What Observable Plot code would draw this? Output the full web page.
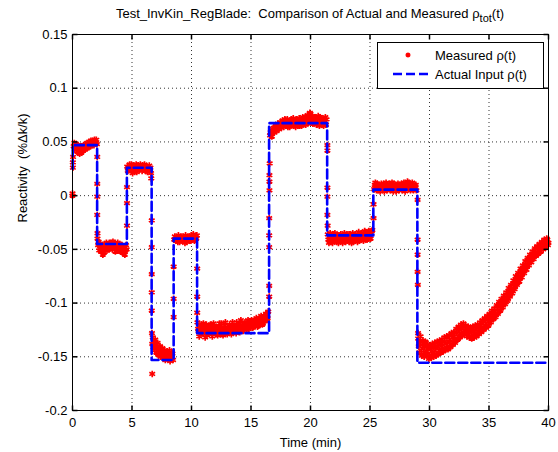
<!DOCTYPE html>
<html><head><meta charset="utf-8">
<script src="https://cdn.jsdelivr.net/npm/d3@7"></script>
<script src="https://cdn.jsdelivr.net/npm/@observablehq/plot@0.6"></script>
<style>
body{margin:0;background:#fff;font-family:"Liberation Sans",Arial,sans-serif;}
#wrap{position:relative;width:558px;height:452px;background:#fff;}
#title{height:28px;line-height:28px;text-align:center;padding-left:62px;font-size:13px;white-space:nowrap;color:#000;}
#title sub{font-size:11px;vertical-align:-4px;line-height:0;}
#legend{position:absolute;left:377px;top:42px;}
</style></head>
<body>
<div id="wrap">
<div id="title">Test_InvKin_RegBlade:&nbsp; Comparison of Actual and Measured ρ<sub>tot</sub>(t)</div>
<div id="chart"></div>
<svg id="legend" width="167" height="47" xmlns="http://www.w3.org/2000/svg" font-family="Liberation Sans, Arial, sans-serif" font-size="13">
<rect x="0.5" y="0.5" width="166" height="46" fill="#fff" stroke="#000"/>
<path d="M31,10.5v5M28.5,13h5M29.2,11.2l3.6,3.6M32.8,11.2l-3.6,3.6" stroke="#ff0000" stroke-width="1.4"/>
<line x1="16" y1="32" x2="55" y2="32" stroke="#0000ff" stroke-width="2.6" stroke-dasharray="9,4"/>
<text x="58" y="17.5">Measured ρ(t)</text>
<text x="58" y="37">Actual Input ρ(t)</text>
</svg>
</div>
<script>
const xTicks = [0, 5, 10, 15, 20, 25, 30, 35, 40];
const yTicks = [-0.2, -0.15, -0.1, -0.05, 0, 0.05, 0.1, 0.15];
const yTickLabels = ["-0.2", "-0.15", "-0.1", "-0.05", "0", "0.05", "0.1", "0.15"];

// Actual input reactivity: breakpoints (min) and levels (%Δk/k)
const actualTime = [0, 0.02, 2.07, 4.57, 6.65, 8.5, 10.47, 16.52, 21.4, 25.28, 28.98, 40];
const actualValue = [0.025, 0.047, -0.045, 0.026, -0.153, -0.04, -0.128, 0.0675, -0.037, 0.0056, -0.1556, -0.1556];

// Measured reactivity [time, value]
const measStart = [[0,0.000],[0,0.002],[0.03,0.026],[0.03,0.031],[0.05,0.036]];
const measSeg1 = [[0.1,0.046],[0.15,0.049],[0.2,0.043],[0.25,0.047],[0.3,0.048],[0.35,0.044],[0.4,0.041],[0.45,0.047],[0.5,0.044],[0.55,0.040],[0.6,0.039],[0.65,0.046],[0.7,0.043],[0.75,0.040],[0.8,0.046],[0.85,0.044],[0.9,0.042],[0.95,0.047],[1.0,0.045],[1.05,0.043],[1.1,0.048],[1.15,0.046],[1.2,0.044],[1.25,0.049],[1.3,0.047],[1.35,0.045],[1.4,0.050],[1.45,0.048],[1.5,0.046],[1.55,0.051],[1.6,0.049],[1.65,0.047],[1.7,0.051],[1.75,0.049],[1.8,0.047],[1.85,0.052],[1.9,0.050],[1.95,0.049],[2.0,0.052],[2.05,0.048]];
const measTrans1 = [[2.08,0.036],[2.08,0.011],[2.08,-0.001],[2.08,-0.018],[2.1,-0.035]];
const measSeg2 = [[2.1,-0.040],[2.15,-0.046],[2.2,-0.043],[2.25,-0.051],[2.3,-0.049],[2.35,-0.045],[2.4,-0.052],[2.45,-0.049],[2.5,-0.047],[2.55,-0.055],[2.6,-0.050],[2.65,-0.053],[2.7,-0.045],[2.75,-0.050],[2.8,-0.048],[2.85,-0.044],[2.9,-0.051],[2.95,-0.048],[3.0,-0.046],[3.05,-0.050],[3.1,-0.044],[3.15,-0.047],[3.2,-0.049],[3.25,-0.044],[3.3,-0.047],[3.35,-0.050],[3.4,-0.043],[3.45,-0.046],[3.5,-0.048],[3.55,-0.044],[3.6,-0.052],[3.65,-0.049],[3.7,-0.046],[3.75,-0.051],[3.8,-0.044],[3.85,-0.047],[3.9,-0.050],[3.95,-0.045],[4.0,-0.047],[4.05,-0.052],[4.1,-0.049],[4.15,-0.046],[4.2,-0.053],[4.25,-0.050],[4.3,-0.048],[4.35,-0.052],[4.4,-0.055],[4.45,-0.051],[4.5,-0.046],[4.55,-0.050]];
const measTrans2 = [[4.58,0.008],[4.58,-0.007],[4.58,-0.028]];
const measSeg3 = [[4.6,0.027],[4.65,0.023],[4.7,0.026],[4.75,0.024],[4.8,0.029],[4.85,0.024],[4.9,0.027],[4.95,0.029],[5.0,0.025],[5.05,0.021],[5.1,0.024],[5.15,0.028],[5.2,0.027],[5.25,0.023],[5.3,0.026],[5.35,0.029],[5.4,0.022],[5.45,0.025],[5.5,0.028],[5.55,0.026],[5.6,0.024],[5.65,0.027],[5.7,0.029],[5.75,0.025],[5.8,0.026],[5.85,0.023],[5.9,0.028],[5.95,0.026],[6.0,0.025],[6.05,0.029],[6.1,0.027],[6.15,0.023],[6.2,0.024],[6.25,0.027],[6.3,0.022],[6.35,0.026],[6.4,0.025],[6.45,0.028],[6.5,0.024],[6.55,0.026],[6.6,0.021]];
const measTrans3 = [[6.62,0.016],[6.66,-0.023],[6.66,-0.048],[6.66,-0.073],[6.66,-0.090],[6.66,-0.107],[6.68,-0.128],[6.7,-0.166]];
const measSeg4 = [[6.7,-0.138],[6.75,-0.132],[6.8,-0.141],[6.85,-0.136],[6.9,-0.144],[6.95,-0.134],[7.0,-0.139],[7.05,-0.146],[7.1,-0.141],[7.15,-0.137],[7.2,-0.148],[7.25,-0.143],[7.3,-0.146],[7.35,-0.140],[7.4,-0.150],[7.45,-0.144],[7.5,-0.147],[7.55,-0.142],[7.6,-0.151],[7.65,-0.146],[7.7,-0.149],[7.75,-0.144],[7.8,-0.153],[7.85,-0.147],[7.9,-0.150],[7.95,-0.145],[8.0,-0.146],[8.05,-0.152],[8.1,-0.148],[8.15,-0.144],[8.2,-0.154],[8.25,-0.149],[8.3,-0.151],[8.35,-0.146],[8.4,-0.147],[8.45,-0.153]];
const measTrans4 = [[8.5,-0.113],[8.5,-0.096],[8.5,-0.066]];
const measSeg5 = [[8.55,-0.041],[8.6,-0.038],[8.65,-0.040],[8.7,-0.042],[8.75,-0.039],[8.8,-0.041],[8.85,-0.043],[8.9,-0.037],[8.95,-0.040],[9.0,-0.043],[9.05,-0.041],[9.1,-0.039],[9.15,-0.041],[9.2,-0.038],[9.25,-0.042],[9.3,-0.042],[9.35,-0.039],[9.4,-0.041],[9.45,-0.044],[9.5,-0.037],[9.55,-0.040],[9.6,-0.043],[9.65,-0.040],[9.7,-0.039],[9.75,-0.041],[9.8,-0.038],[9.85,-0.042],[9.9,-0.040],[9.95,-0.042],[10.0,-0.037],[10.05,-0.039],[10.1,-0.040],[10.15,-0.036],[10.2,-0.039],[10.25,-0.042],[10.3,-0.041],[10.35,-0.038],[10.4,-0.040],[10.45,-0.037]];
const measTrans5 = [[10.48,-0.068],[10.48,-0.094],[10.48,-0.109]];
const measSeg6 = [[10.5,-0.118],[10.55,-0.124],[10.6,-0.126],[10.65,-0.131],[10.7,-0.121],[10.75,-0.125],[10.8,-0.129],[10.85,-0.120],[10.9,-0.123],[10.95,-0.128],[11.0,-0.119],[11.05,-0.124],[11.1,-0.127],[11.15,-0.132],[11.2,-0.124],[11.25,-0.120],[11.3,-0.130],[11.35,-0.126],[11.4,-0.122],[11.45,-0.128],[11.5,-0.126],[11.55,-0.121],[11.6,-0.120],[11.65,-0.125],[11.7,-0.128],[11.75,-0.131],[11.8,-0.124],[11.85,-0.119],[11.9,-0.121],[11.95,-0.126],[12.0,-0.127],[12.05,-0.122],[12.1,-0.125],[12.15,-0.129],[12.2,-0.130],[12.25,-0.125],[12.3,-0.122],[12.35,-0.119],[12.4,-0.126],[12.45,-0.129],[12.5,-0.119],[12.55,-0.123],[12.6,-0.124],[12.65,-0.130],[12.7,-0.128],[12.75,-0.124],[12.8,-0.121],[12.85,-0.118],[12.9,-0.125],[12.95,-0.127],[13.0,-0.129],[13.05,-0.124],[13.1,-0.123],[13.15,-0.127],[13.2,-0.120],[13.25,-0.122],[13.3,-0.126],[13.35,-0.129],[13.4,-0.122],[13.45,-0.118],[13.5,-0.127],[13.55,-0.124],[13.6,-0.121],[13.65,-0.126],[13.7,-0.124],[13.75,-0.128],[13.8,-0.118],[13.85,-0.121],[13.9,-0.126],[13.95,-0.123],[14.0,-0.122],[14.05,-0.127],[14.1,-0.119],[14.15,-0.116],[14.2,-0.125],[14.25,-0.121],[14.3,-0.121],[14.35,-0.126],[14.4,-0.124],[14.45,-0.119],[14.5,-0.118],[14.55,-0.123],[14.6,-0.122],[14.65,-0.125],[14.7,-0.120],[14.75,-0.116],[14.8,-0.124],[14.85,-0.120],[14.9,-0.117],[14.95,-0.123],[15.0,-0.121],[15.05,-0.116],[15.1,-0.118],[15.15,-0.123],[15.2,-0.122],[15.25,-0.117],[15.3,-0.116],[15.35,-0.121],[15.4,-0.120],[15.45,-0.114],[15.5,-0.117],[15.55,-0.122],[15.6,-0.121],[15.65,-0.116],[15.7,-0.114],[15.75,-0.119],[15.8,-0.118],[15.85,-0.112],[15.9,-0.115],[15.95,-0.120],[16.0,-0.119],[16.05,-0.114],[16.1,-0.112],[16.15,-0.117],[16.2,-0.116],[16.25,-0.110],[16.3,-0.110],[16.35,-0.115],[16.4,-0.114],[16.45,-0.108]];
const measTrans6 = [[16.53,-0.094],[16.53,-0.084],[16.53,-0.048],[16.53,-0.037],[16.53,-0.021],[16.55,0.005],[16.55,0.013],[16.55,0.019],[16.57,0.030]];
const measSeg7 = [[16.6,0.056],[16.65,0.059],[16.7,0.060],[16.75,0.055],[16.8,0.058],[16.85,0.062],[16.9,0.063],[16.95,0.059],[17.0,0.061],[17.05,0.064],[17.1,0.065],[17.15,0.060],[17.2,0.062],[17.25,0.067],[17.3,0.066],[17.35,0.062],[17.4,0.064],[17.45,0.068],[17.5,0.068],[17.55,0.063],[17.6,0.065],[17.65,0.070],[17.7,0.069],[17.75,0.064],[17.8,0.066],[17.85,0.071],[17.9,0.070],[17.95,0.065],[18.0,0.067],[18.05,0.071],[18.1,0.064],[18.15,0.068],[18.2,0.069],[18.25,0.064],[18.3,0.066],[18.35,0.070],[18.4,0.071],[18.45,0.066],[18.5,0.067],[18.55,0.072],[18.6,0.065],[18.65,0.068],[18.7,0.069],[18.75,0.064],[18.8,0.066],[18.85,0.071],[18.9,0.070],[18.95,0.065],[19.0,0.068],[19.05,0.072],[19.1,0.065],[19.15,0.069],[19.2,0.070],[19.25,0.065],[19.3,0.067],[19.35,0.073],[19.4,0.072],[19.45,0.067],[19.5,0.068],[19.55,0.073],[19.6,0.066],[19.65,0.070],[19.7,0.071],[19.75,0.075],[19.8,0.074],[19.85,0.068],[19.9,0.069],[19.95,0.077],[20.0,0.076],[20.05,0.070],[20.1,0.071],[20.15,0.074],[20.2,0.067],[20.25,0.070],[20.3,0.073],[20.35,0.068],[20.4,0.069],[20.45,0.073],[20.5,0.066],[20.55,0.069],[20.6,0.071],[20.65,0.074],[20.7,0.068],[20.75,0.065],[20.8,0.073],[20.85,0.069],[20.9,0.067],[20.95,0.072],[21.0,0.070],[21.05,0.066],[21.1,0.065],[21.15,0.070],[21.2,0.069],[21.25,0.073],[21.3,0.066],[21.35,0.071]];
const measTrans7 = [[21.42,0.047],[21.42,0.042],[21.42,0.0075],[21.42,-0.001],[21.42,-0.018],[21.44,-0.028]];
const measSeg8 = [[21.45,-0.036],[21.5,-0.041],[21.55,-0.044],[21.6,-0.038],[21.65,-0.035],[21.7,-0.043],[21.75,-0.040],[21.8,-0.039],[21.85,-0.044],[21.9,-0.036],[21.95,-0.039],[22.0,-0.041],[22.05,-0.035],[22.1,-0.038],[22.15,-0.042],[22.2,-0.043],[22.25,-0.037],[22.3,-0.040],[22.35,-0.044],[22.4,-0.037],[22.45,-0.039],[22.5,-0.042],[22.55,-0.036],[22.6,-0.039],[22.65,-0.041],[22.7,-0.044],[22.75,-0.040],[22.8,-0.038],[22.85,-0.035],[22.9,-0.041],[22.95,-0.043],[23.0,-0.037],[23.05,-0.040],[23.1,-0.042],[23.15,-0.036],[23.2,-0.039],[23.25,-0.043],[23.3,-0.036],[23.35,-0.038],[23.4,-0.041],[23.45,-0.044],[23.5,-0.038],[23.55,-0.035],[23.6,-0.043],[23.65,-0.040],[23.7,-0.039],[23.75,-0.042],[23.8,-0.036],[23.85,-0.038],[23.9,-0.040],[23.95,-0.043],[24.0,-0.037],[24.05,-0.034],[24.1,-0.042],[24.15,-0.039],[24.2,-0.038],[24.25,-0.041],[24.3,-0.035],[24.35,-0.037],[24.4,-0.040],[24.45,-0.042],[24.5,-0.037],[24.55,-0.033],[24.6,-0.034],[24.65,-0.038],[24.7,-0.039],[24.75,-0.041],[24.8,-0.036],[24.85,-0.034],[24.9,-0.033],[24.95,-0.037],[25.0,-0.038],[25.05,-0.040],[25.1,-0.035],[25.15,-0.033],[25.2,-0.032]];
const measTrans8 = [[25.3,-0.021],[25.3,-0.008]];
const measSeg9 = [[25.35,0.006],[25.4,0.010],[25.45,0.012],[25.5,0.007],[25.55,0.005],[25.6,0.011],[25.65,0.008],[25.7,0.005],[25.75,0.010],[25.8,0.009],[25.85,0.004],[25.9,0.006],[25.95,0.011],[26.0,0.010],[26.05,0.006],[26.1,0.007],[26.15,0.011],[26.2,0.004],[26.25,0.008],[26.3,0.009],[26.35,0.012],[26.4,0.006],[26.45,0.005],[26.5,0.010],[26.55,0.008],[26.6,0.007],[26.65,0.011],[26.7,0.005],[26.75,0.007],[26.8,0.009],[26.85,0.012],[26.9,0.006],[26.95,0.004],[27.0,0.011],[27.05,0.008],[27.1,0.007],[27.15,0.010],[27.2,0.004],[27.25,0.006],[27.3,0.008],[27.35,0.011],[27.4,0.006],[27.45,0.005],[27.5,0.010],[27.55,0.008],[27.6,0.007],[27.65,0.011],[27.7,0.005],[27.75,0.007],[27.8,0.009],[27.85,0.012],[27.9,0.006],[27.95,0.004],[28.0,0.010],[28.05,0.008],[28.1,0.007],[28.15,0.013],[28.2,0.012],[28.25,0.006],[28.3,0.008],[28.35,0.011],[28.4,0.005],[28.45,0.007],[28.5,0.009],[28.55,0.012],[28.6,0.006],[28.65,0.005],[28.7,0.010],[28.75,0.008],[28.8,0.007],[28.85,0.010],[28.9,0.005]];
const measTrans9 = [[29.0,-0.004],[29.0,-0.041],[29.0,-0.055],[29.0,-0.071],[29.02,-0.083],[29.04,-0.128]];
const measSeg10 = [[29.05,-0.133],[29.1,-0.140],[29.15,-0.146],[29.2,-0.136],[29.25,-0.131],[29.3,-0.144],[29.35,-0.149],[29.4,-0.139],[29.45,-0.135],[29.5,-0.146],[29.55,-0.150],[29.6,-0.141],[29.65,-0.136],[29.7,-0.137],[29.75,-0.148],[29.8,-0.145],[29.85,-0.139],[29.9,-0.142],[29.95,-0.152],[30.0,-0.149],[30.05,-0.140],[30.1,-0.143],[30.15,-0.151],[30.2,-0.147],[30.25,-0.138],[30.3,-0.141],[30.35,-0.150],[30.4,-0.146],[30.45,-0.137],[30.5,-0.142],[30.55,-0.149],[30.6,-0.148],[30.65,-0.136],[30.7,-0.140],[30.75,-0.147],[30.8,-0.144],[30.85,-0.135],[30.9,-0.138],[30.95,-0.146],[31.0,-0.143],[31.05,-0.134],[31.1,-0.139],[31.15,-0.145],[31.2,-0.144],[31.25,-0.132],[31.3,-0.136],[31.35,-0.143],[31.4,-0.141],[31.45,-0.131],[31.5,-0.137],[31.55,-0.143],[31.6,-0.142],[31.65,-0.130],[31.7,-0.134],[31.75,-0.141],[31.8,-0.139],[31.85,-0.128],[31.9,-0.132],[31.95,-0.139],[32.0,-0.137],[32.05,-0.127],[32.1,-0.131],[32.15,-0.137],[32.2,-0.135],[32.25,-0.124],[32.3,-0.128],[32.35,-0.134],[32.4,-0.133],[32.45,-0.122],[32.5,-0.126],[32.55,-0.132],[32.6,-0.131],[32.65,-0.120],[32.7,-0.124],[32.75,-0.130],[32.8,-0.129],[32.85,-0.119],[32.9,-0.122],[32.95,-0.128],[33.0,-0.127],[33.05,-0.121],[33.1,-0.124],[33.15,-0.131],[33.2,-0.129],[33.25,-0.122],[33.3,-0.125],[33.35,-0.132],[33.4,-0.131],[33.45,-0.123],[33.5,-0.127],[33.55,-0.133],[33.6,-0.132],[33.65,-0.122],[33.7,-0.126],[33.75,-0.132],[33.8,-0.130],[33.85,-0.121],[33.9,-0.125],[33.95,-0.131],[34.0,-0.129],[34.05,-0.120],[34.1,-0.123],[34.15,-0.129],[34.2,-0.127],[34.25,-0.118],[34.3,-0.121],[34.35,-0.127],[34.4,-0.125],[34.45,-0.116],[34.5,-0.119],[34.55,-0.125],[34.6,-0.123],[34.65,-0.114],[34.7,-0.117],[34.75,-0.123],[34.8,-0.121],[34.85,-0.112],[34.9,-0.115],[34.95,-0.121],[35.0,-0.119],[35.05,-0.110],[35.1,-0.113],[35.15,-0.118],[35.2,-0.116],[35.25,-0.107],[35.3,-0.110],[35.35,-0.115],[35.4,-0.114],[35.45,-0.105],[35.5,-0.108],[35.55,-0.113],[35.6,-0.111],[35.65,-0.102],[35.7,-0.105],[35.75,-0.110],[35.8,-0.108],[35.85,-0.099],[35.9,-0.102],[35.95,-0.107],[36.0,-0.105],[36.05,-0.096],[36.1,-0.099],[36.15,-0.104],[36.2,-0.102],[36.25,-0.093],[36.3,-0.096],[36.35,-0.101],[36.4,-0.099],[36.45,-0.090],[36.5,-0.093],[36.55,-0.098],[36.6,-0.096],[36.65,-0.086],[36.7,-0.089],[36.75,-0.094],[36.8,-0.092],[36.85,-0.083],[36.9,-0.086],[36.95,-0.091],[37.0,-0.089],[37.05,-0.079],[37.1,-0.082],[37.15,-0.087],[37.2,-0.085],[37.25,-0.075],[37.3,-0.078],[37.35,-0.083],[37.4,-0.081],[37.45,-0.072],[37.5,-0.075],[37.55,-0.080],[37.6,-0.077],[37.65,-0.068],[37.7,-0.071],[37.75,-0.076],[37.8,-0.073],[37.85,-0.065],[37.9,-0.067],[37.95,-0.072],[38.0,-0.069],[38.05,-0.061],[38.1,-0.064],[38.15,-0.069],[38.2,-0.066],[38.25,-0.058],[38.3,-0.060],[38.35,-0.065],[38.4,-0.062],[38.45,-0.055],[38.5,-0.057],[38.55,-0.062],[38.6,-0.059],[38.65,-0.052],[38.7,-0.054],[38.75,-0.059],[38.8,-0.056],[38.85,-0.049],[38.9,-0.051],[38.95,-0.056],[39.0,-0.054],[39.05,-0.047],[39.1,-0.049],[39.15,-0.054],[39.2,-0.051],[39.25,-0.045],[39.3,-0.047],[39.35,-0.052],[39.4,-0.050],[39.45,-0.043],[39.5,-0.045],[39.55,-0.050],[39.6,-0.048],[39.65,-0.041],[39.7,-0.043],[39.75,-0.048],[39.8,-0.046],[39.85,-0.040],[39.9,-0.041],[39.95,-0.046],[40.0,-0.044]];

const measured = [measStart, measSeg1, measTrans1, measSeg2, measTrans2, measSeg3, measTrans3, measSeg4, measTrans4, measSeg5, measTrans5, measSeg6, measTrans6, measSeg7, measTrans7, measSeg8, measTrans8, measSeg9, measTrans9, measSeg10]
  .flat().map(([t, v]) => ({t, v}));
const actual = actualTime.map((t, i) => ({t, v: actualValue[i]}));

const tickUp = {draw(c){c.moveTo(0,0);c.lineTo(0,-5);}};
const tickDown = {draw(c){c.moveTo(0,0);c.lineTo(0,5);}};
const tickRight = {draw(c){c.moveTo(0,0);c.lineTo(5,0);}};
const tickLeft = {draw(c){c.moveTo(0,0);c.lineTo(-5,0);}};
const gridStyle = {stroke: "#000", strokeOpacity: 0.8, strokeDasharray: "1,3", strokeWidth: 1};

const chart = Plot.plot({
  width: 558, height: 424,
  marginTop: 6, marginBottom: 42, marginLeft: 72, marginRight: 10,
  x: {domain: [0, 40]},
  y: {domain: [-0.2, 0.15]},
  style: {fontFamily: "Liberation Sans, Arial, sans-serif", fontSize: "13px", background: "white", color: "black", overflow: "visible"},
  marks: [
    Plot.gridX(xTicks, gridStyle),
    Plot.gridY(yTicks, gridStyle),
    Plot.dot(measured, {x: "t", y: "v", symbol: "asterisk", r: 3.1, stroke: "#ff0000", strokeWidth: 1.7}),
    Plot.line(actual, {x: "t", y: "v", curve: "step-after", stroke: "#0000ff", strokeWidth: 2.6, strokeDasharray: "9,4"}),
    Plot.frame({stroke: "#000"}),
    Plot.dot(xTicks, {x: d => d, frameAnchor: "bottom", symbol: tickUp, stroke: "#000", fill: "none"}),
    Plot.dot(xTicks, {x: d => d, frameAnchor: "top", symbol: tickDown, stroke: "#000", fill: "none"}),
    Plot.dot(yTicks, {y: d => d, frameAnchor: "left", symbol: tickRight, stroke: "#000", fill: "none"}),
    Plot.dot(yTicks, {y: d => d, frameAnchor: "right", symbol: tickLeft, stroke: "#000", fill: "none"}),
    Plot.axisX(xTicks, {tickSize: 0, tickPadding: 7, label: null}),
    Plot.axisY(yTicks, {tickSize: 0, tickPadding: 5, label: null, tickFormat: (d, i) => yTickLabels[i]}),
    Plot.text(["Time (min)"], {frameAnchor: "bottom", dy: 32, text: d => d, lineAnchor: "middle"}),
    Plot.text(["Reactivity \u00a0(%Δk/k)"], {frameAnchor: "left", dx: -50, rotate: -90, text: d => d, lineAnchor: "middle"})
  ]
});
document.getElementById("chart").appendChild(chart);
</script>
</body></html>
